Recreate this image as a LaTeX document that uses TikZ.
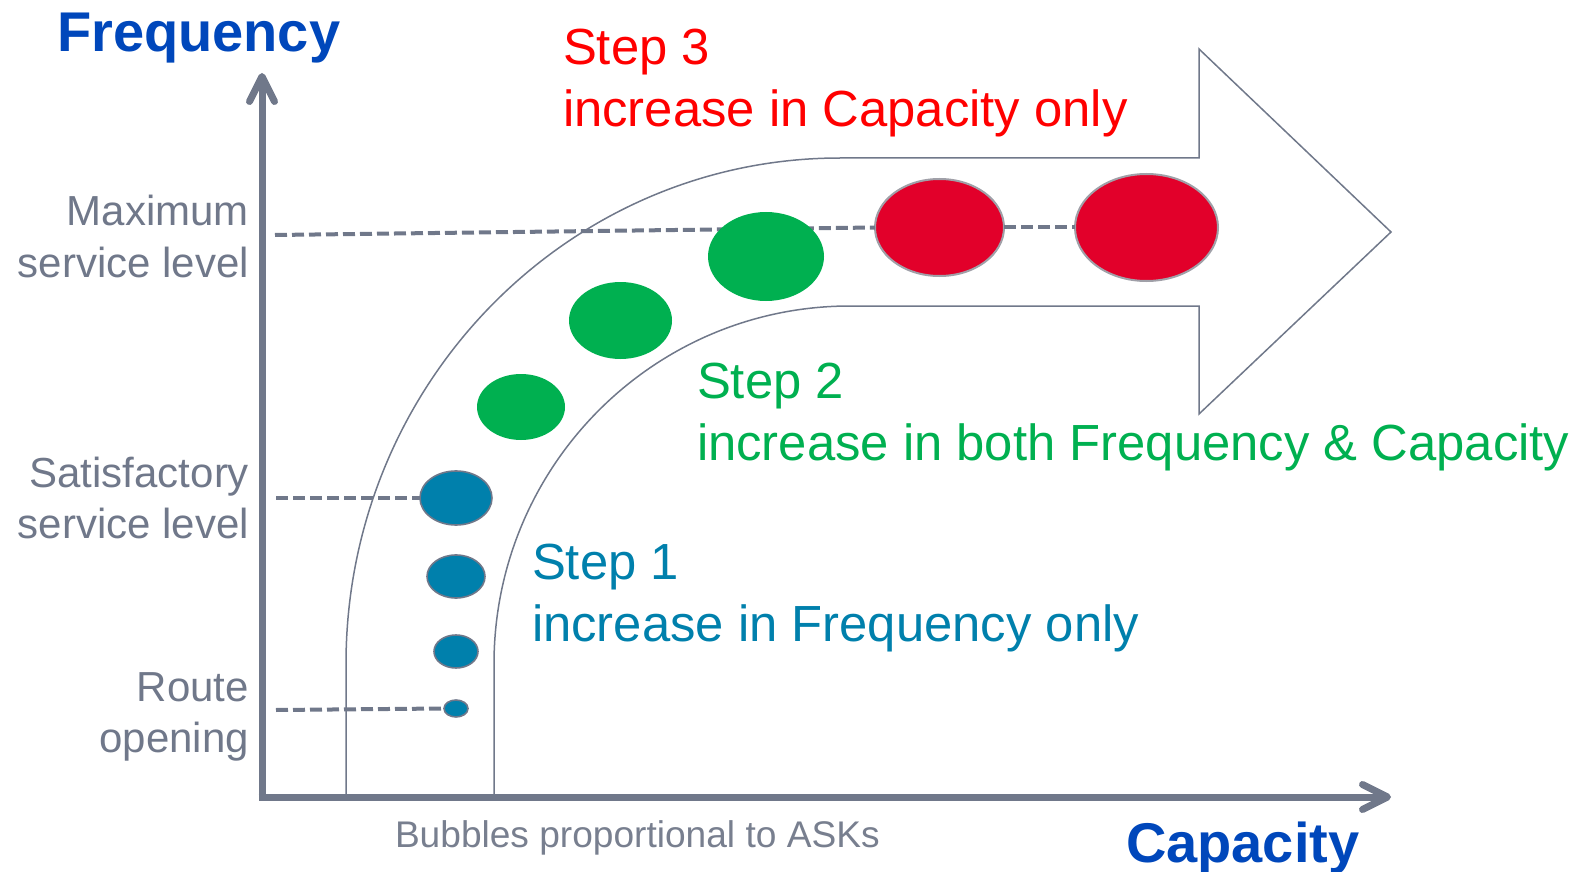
\documentclass[tikz,border=0pt]{standalone}
\usepackage{fontspec}
\setmainfont{Liberation Sans}
\usetikzlibrary{shapes.geometric,arrows.meta}
\definecolor{axisgray}{RGB}{112,120,138}
\definecolor{labelgray}{RGB}{112,120,138}
\definecolor{notegray}{RGB}{120,127,143}
\definecolor{titleblue}{RGB}{0,71,187}
\definecolor{tealblue}{RGB}{0,128,172}
\definecolor{stepgreen}{RGB}{0,176,80}
\definecolor{stepred}{RGB}{255,0,0}
\definecolor{bubred}{RGB}{226,0,42}
\definecolor{rimgray}{RGB}{160,160,168}
\begin{document}
\begin{tikzpicture}[x=0.5pt,y=-0.5pt,
  axisline/.style={draw=axisgray, line width=3.5pt, -{Straight Barb[length=12.5pt,width=12.5pt,round]}},
  flow/.style={draw=axisgray, line width=0.75pt},
  guide/.style={draw=axisgray, line width=2pt, dash pattern=on 6pt off 2.5pt},
  bubble/.style={ellipse, inner sep=0pt, outer sep=0pt},
  bluebub/.style={bubble, fill=tealblue, draw=axisgray, line width=0.8pt},
  greenbub/.style={bubble, fill=stepgreen},
  redbub/.style={bubble, fill=bubred, draw=rimgray, line width=1pt},
  txt/.style={inner sep=0pt, outer sep=0pt},
  lbl/.style={txt, text=labelgray, font=\fontsize{21}{25}\selectfont},
  title/.style={txt, text=titleblue, font=\fontsize{28}{33}\selectfont\bfseries},
  steptxt/.style={txt, font=\fontsize{25.4}{30}\selectfont},
  notetxt/.style={txt, text=notegray, font=\fontsize{18.55}{22}\selectfont}
]
\useasboundingbox (0,0) rectangle (1576,872);

% curved wide arrow
\draw[flow] (346,797) -- (346,664)
  .. controls (346,384.5) and (567.2,158) .. (840,158)
  -- (1199,158) -- (1199,49) -- (1391,232) -- (1199,414) -- (1199,306) -- (850,306)
  .. controls (653.4,306) and (494,466.3) .. (494,664) -- (494,797);

% bubbles
\node[bluebub, minimum width=36pt, minimum height=27pt] (b1) at (456,498) {};
\node[bluebub, minimum width=29pt, minimum height=21.5pt] (b2) at (456,576.5) {};
\node[bluebub, minimum width=22pt, minimum height=16.5pt] (b3) at (456,651.5) {};
\node[bluebub, minimum width=12pt, minimum height=8.5pt] (b4) at (456,708.5) {};
\node[redbub, minimum width=64.5pt, minimum height=48.5pt] (r1) at (939.5,227.5) {};
\node[redbub, minimum width=71.5pt, minimum height=53.5pt] (r2) at (1146.5,227.5) {};

% guides
\coordinate (gmax) at (275,235);
\coordinate (gsat) at (276,498);
\coordinate (groute) at (276,710);
\draw[guide] (gmax) -- (r1.west);
\draw[guide] (r1.east) -- (r2.west);
\draw[guide] (gsat) -- (b1.west);
\draw[guide] (groute) -- (b4.west);

\node[greenbub, minimum width=44pt, minimum height=33pt] (g1) at (521,407) {};
\node[greenbub, minimum width=51.5pt, minimum height=38.5pt] (g2) at (620.5,320.5) {};
\node[greenbub, minimum width=58pt, minimum height=44.5pt] (g3) at (766,256.5) {};

% axes
\coordinate (yb) at (262,800.5);
\coordinate (yt) at (262,73);
\coordinate (xl) at (258.5,797);
\coordinate (xr) at (1391,797);
\draw[axisline] (yb) -- (yt);
\draw[axisline] (xl) -- (xr);

% texts
\node[title, anchor=base west] (freq) at (57,52) {Frequency};
\node[title, anchor=base west] (cap) at (1126,862) {Capacity};

\node[lbl, anchor=base east] (maxa) at (249,226) {Maximum};
\node[lbl, anchor=base east] (maxb) at (249,277.5) {service level};
\node[lbl, anchor=base east] (sata) at (249,487.5) {Satisfactory};
\node[lbl, anchor=base east] (satb) at (249,538.5) {service level};
\node[lbl, anchor=base east] (roua) at (249,701) {Route};
\node[lbl, anchor=base east] (roub) at (249,752) {opening};

\node[steptxt, text=stepred, anchor=base west] (s3a) at (563,65) {Step 3};
\node[steptxt, text=stepred, anchor=base west] (s3b) at (563,127) {increase in Capacity only};
\node[steptxt, text=stepgreen, anchor=base west] (s2a) at (697,398) {Step 2};
\node[steptxt, text=stepgreen, anchor=base west] (s2b) at (697,460) {increase in both Frequency \& Capacity};
\node[steptxt, text=tealblue, anchor=base west] (s1a) at (532,579) {Step 1};
\node[steptxt, text=tealblue, anchor=base west] (s1b) at (532,641) {increase in Frequency only};

\node[notetxt, anchor=base west] (note) at (395,847) {Bubbles proportional to ASKs};
\end{tikzpicture}
\end{document}
